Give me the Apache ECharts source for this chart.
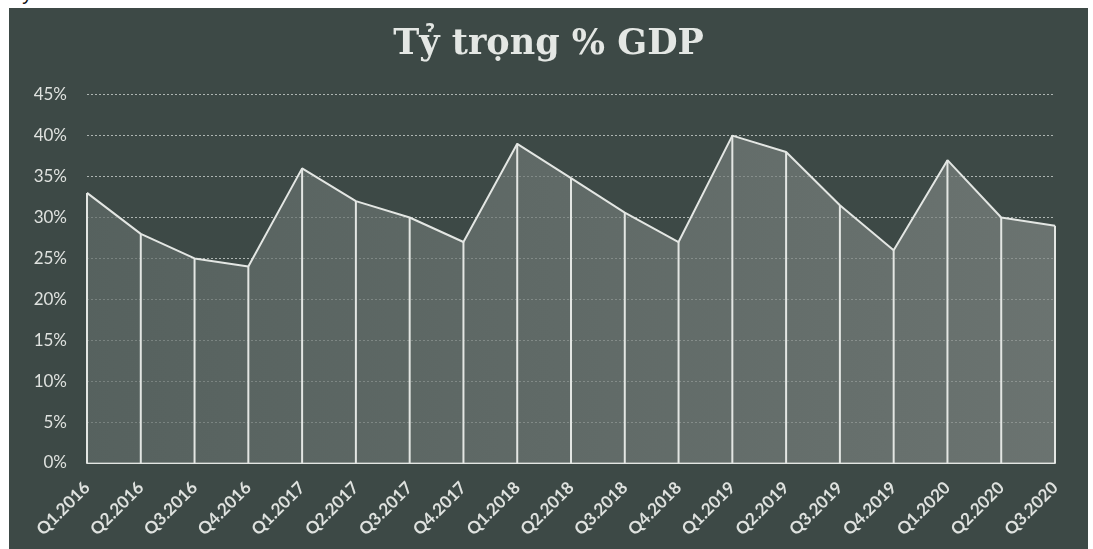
<!DOCTYPE html>
<html>
<head>
<meta charset="utf-8">
<script src="https://cdn.jsdelivr.net/npm/echarts@6/dist/echarts.min.js"></script>
<style>
  html, body { margin: 0; padding: 0; background: #ffffff; width: 1093px; height: 549px; overflow: hidden; }
  #lead { position: absolute; left: 0; top: -17px; font: 20px "Liberation Sans", Arial, sans-serif; line-height: 20px; color: #111; }
  #chart { position: absolute; left: 9px; top: 8px; width: 1079px; height: 541px; }
</style>
</head>
<body>
<div id="lead">dây 5 năm.</div>
<div id="chart"></div>
<script>
// Quarterly share of GDP (%)
const quarters = ['Q1.2016','Q2.2016','Q3.2016','Q4.2016','Q1.2017','Q2.2017','Q3.2017','Q4.2017',
                  'Q1.2018','Q2.2018','Q3.2018','Q4.2018','Q1.2019','Q2.2019','Q3.2019','Q4.2019',
                  'Q1.2020','Q2.2020','Q3.2020'];
const shareOfGdp = [33, 28, 25, 24, 36, 32, 30, 27, 39, 34.8, 30.6, 27, 40, 38, 31.5, 26, 37, 30, 29];
const yTicks = [0, 45, 5]; // min, max, step

const chart = echarts.init(document.getElementById('chart'));
const lineColor = '#e3e6e3';
const textColor = '#dfe2df';

chart.setOption({
  backgroundColor: '#3d4946',
  title: {
    text: 'Tỷ trọng % GDP',
    left: 'center',
    top: 14,
    textStyle: { fontFamily: 'DejaVu Serif', fontWeight: 'bold', fontSize: 35, color: '#e4e7e4' }
  },
  grid: { left: 78, right: 33, top: 86.7, bottom: 86 },
  xAxis: {
    type: 'category',
    data: quarters,
    boundaryGap: false,
    axisLine: { show: true, lineStyle: { color: lineColor, width: 2 } },
    axisTick: { show: false },
    axisLabel: {
      rotate: 45, margin: 22, color: textColor,
      fontFamily: 'Lato', fontWeight: 'bold', fontSize: 17
    },
    splitLine: { show: false }
  },
  yAxis: {
    type: 'value',
    min: yTicks[0], max: yTicks[1], interval: yTicks[2],
    axisLine: { show: false },
    axisTick: { show: false },
    axisLabel: {
      formatter: '{value}%', margin: 20, color: textColor,
      fontFamily: 'Lato', fontSize: 17
    },
    splitLine: { show: true, lineStyle: { color: '#aeb5b2', type: [2, 2], width: 1 } }
  },
  series: [
    {
      type: 'line',
      data: shareOfGdp,
      symbol: 'none',
      z: 3,
      lineStyle: { color: lineColor, width: 2 },
      areaStyle: {
        color: new echarts.graphic.LinearGradient(0, 0, 1, 0, [
          { offset: 0, color: '#616c69' },
          { offset: 1, color: '#7e8582' }
        ])
      }
    },
    {
      // vertical drop line under every quarter
      type: 'custom',
      z: 4,
      data: shareOfGdp.map((v, i) => [i, v]),
      renderItem: function (params, api) {
        const top = api.coord([api.value(0), api.value(1)]);
        const base = api.coord([api.value(0), 0]);
        return {
          type: 'line',
          shape: { x1: top[0], y1: top[1], x2: base[0], y2: base[1] },
          style: { stroke: lineColor, lineWidth: 2 }
        };
      },
      silent: true
    }
  ]
});
</script>
</body>
</html>
